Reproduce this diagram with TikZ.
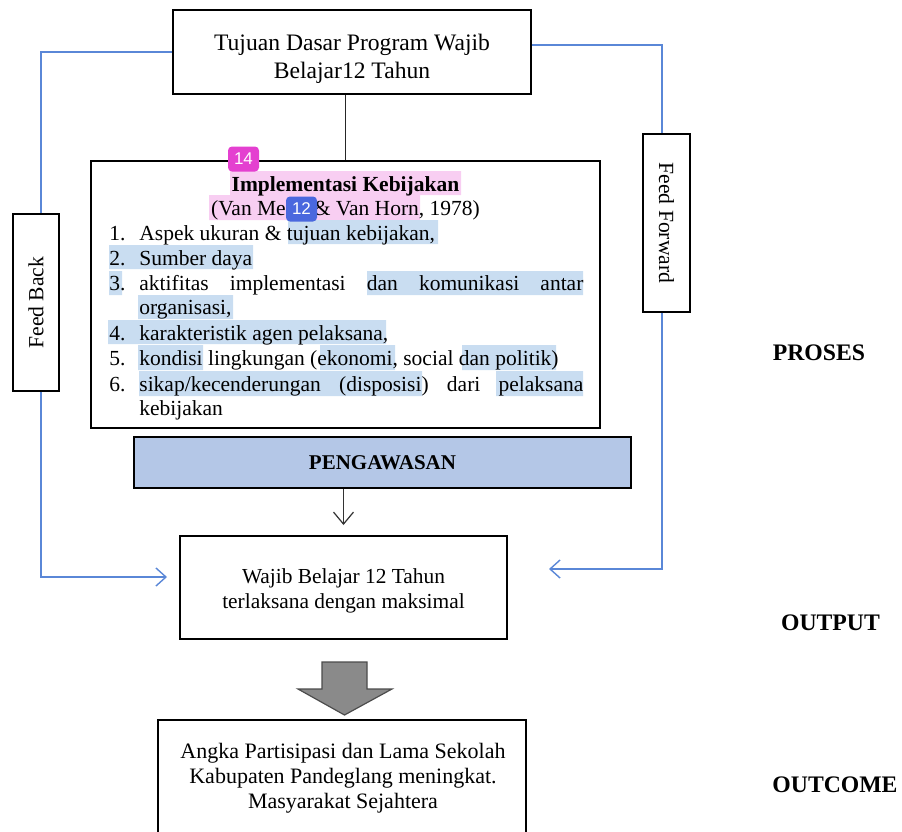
\documentclass[tikz,border=0pt]{standalone}
\usepackage{fontspec}
\setmainfont{Liberation Serif}
\newfontfamily\badgefont{Liberation Sans}
\usepackage{graphicx}
\usetikzlibrary{arrows.meta}
\definecolor{garisbiru}{RGB}{90,135,215}
\definecolor{isibiru}{RGB}{180,199,231}
\definecolor{sorotbiru}{RGB}{201,221,241}
\definecolor{sorotpink}{RGB}{248,206,242}
\definecolor{lencanapink}{RGB}{228,64,208}
\definecolor{lencanabiru}{RGB}{74,104,222}
\definecolor{panahabu}{RGB}{138,138,138}
\begin{document}
\begin{tikzpicture}[x=0.5pt,y=-0.5pt,> = {Straight Barb[length=5pt,width=9pt]},
		kotak/.style={draw,line width=1pt,inner sep=0pt},
		teks/.style={font=\fontsize{10.75}{12.5}\selectfont,inner sep=0pt,anchor=base west},
		garis/.style={draw=garisbiru,line width=0.7pt},
		sisi/.style={font=\bfseries\fontsize{11.85}{14}\selectfont},
		lencana/.style={rounded corners=2pt,text=white,minimum width=15.5pt,minimum height=12.5pt,inner sep=0pt,font=\badgefont\fontsize{8.5}{9}\selectfont}]
	\useasboundingbox (0,0) rectangle (902,832);
	\fill[sorotpink] (230,171) rectangle (461,195)
			(209,195) rectangle (420,220);
	\fill[sorotbiru] (288,220) rectangle (438,244)
			(109,245) rectangle (253,269)
			(109,271) rectangle (122,295)
			(367,271) rectangle (583,295)
			(138,295) rectangle (233,319)
			(108,320) rectangle (386,344)
			(138,345) rectangle (203,370)
			(320,345) rectangle (395,370)
			(462,345) rectangle (556,370)
			(139,371) rectangle (422,396)
			(496,371) rectangle (583,396);
	\node[kotak,minimum width=179pt,minimum height=42pt,align=center,font=\fontsize{11.8}{14}\selectfont] (tujuan) at (352,52) {\rule{0pt}{15pt}Tujuan Dasar Program Wajib\\Belajar12 Tahun};
	\node[kotak,line width=1.2pt,minimum width=254.5pt,minimum height=133.5pt] (impl) at (345.5,294.5) {};
	\node[teks,anchor=base,font=\bfseries\fontsize{10.75}{12.5}\selectfont] (judul) at (345.5,191) {Implementasi Kebijakan};
	\node[teks,anchor=base] (sumber) at (345.5,215) {(Van Meter \& Van Horn, 1978)};
	\node[teks] (no1) at (109,240) {1.};
	\node[teks] (no2) at (109,265) {2.};
	\node[teks] (no3) at (109,290) {3.};
	\node[teks] (no4) at (109,340) {4.};
	\node[teks] (no5) at (109,365) {5.};
	\node[teks] (no6) at (109,391) {6.};
	\node[teks] (butir1) at (139,240) {Aspek ukuran \& tujuan kebijakan,};
	\node[teks] (butir2) at (139,265) {Sumber daya};
	\node[teks] (butir3) at (139,290) {\makebox[222pt][s]{aktifitas implementasi dan komunikasi antar}};
	\node[teks] (butir3b) at (139,314) {organisasi,};
	\node[teks] (butir4) at (139,340) {karakteristik agen pelaksana,};
	\node[teks] (butir5) at (139,365) {kondisi lingkungan (ekonomi, social dan politik)};
	\node[teks] (butir6) at (139,391) {\makebox[222pt][s]{sikap/kecenderungan (disposisi) dari pelaksana}};
	\node[teks] (butir6b) at (139,415) {kebijakan};
	\node[kotak,line width=1.3pt,fill=isibiru,minimum width=248.5pt,minimum height=25.5pt,font=\bfseries\fontsize{10.5}{12}\selectfont] (awas) at (382.5,462.5) {PENGAWASAN};
	\node[kotak,minimum width=163.5pt,minimum height=51.5pt,align=center,font=\fontsize{10.7}{12.75}\selectfont] (wajib) at (343.5,587.5) {\rule{0pt}{11pt}Wajib Belajar 12 Tahun\\terlaksana dengan maksimal};
	\node[kotak,line width=0.9pt,minimum width=23pt,minimum height=88.5pt,font=\fontsize{10.8}{13}\selectfont] (balik) at (36,302.5) {\rotatebox{90}{Feed Back}};
	\node[kotak,line width=0.9pt,minimum width=23.5pt,minimum height=89pt,font=\fontsize{10.8}{13}\selectfont] (maju) at (666.5,223) {\rotatebox{-90}{Feed Forward}};
	\node[sisi] (proses) at (819,353) {PROSES};
	\node[sisi] (keluaran) at (830.5,623) {OUTPUT};
	\node[sisi] (dampak) at (835,785) {OUTCOME};
	\draw[line width=0.8pt,black!85] (impl.north) -- (impl.north |- tujuan.south);
	\coordinate (ujungawas) at (343.5,525);
	\draw[->,> = {Straight Barb[length=6pt,width=10pt]},line width=0.6pt,black!80] (awas.south -| ujungawas) -- (ujungawas);
	\coordinate (kiri) at (41,577);
	\coordinate (ujungkiri) at (167,577);
	\draw[garis] (tujuan.west) -| (balik.north -| kiri);
	\draw[garis,->] (balik.south -| kiri) -- (kiri) -- (ujungkiri);
	\coordinate (atasmaju) at (662,45);
	\coordinate (kanan) at (662,569);
	\coordinate (ujungkanan) at (549,569);
	\draw[garis] (tujuan.east |- atasmaju) -- (atasmaju) -- (atasmaju |- maju.north);
	\draw[garis,->] (atasmaju |- maju.south) -- (kanan) -- (ujungkanan);
	\draw[draw=black!70,fill=panahabu,line width=0.6pt] (322,662) -- (367,662) -- (367,689) -- (392,689)
			-- (344.5,715) -- (298,689) -- (322,689) -- cycle;
	\draw[line width=1pt] (158,836) |- (526,720) -- (526,836);
	\node[align=center,font=\fontsize{11}{12.5}\selectfont] (hasil) at (343,778) {Angka Partisipasi dan Lama Sekolah\\Kabupaten Pandeglang meningkat.\\Masyarakat Sejahtera};
	\node[lencana,fill=lencanapink] (lencana14) at (243.5,159) {14};
	\node[lencana,fill=lencanabiru] (lencana12) at (301.5,209) {12};
\end{tikzpicture}
\end{document}
